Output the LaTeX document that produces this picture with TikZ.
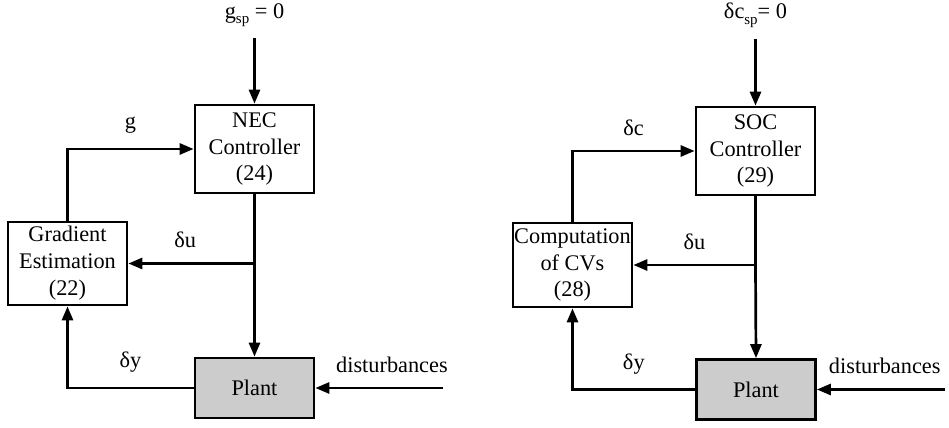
\documentclass[tikz,border=0pt]{standalone}
\usepackage{fontspec}
\setmainfont{Liberation Serif}
\usetikzlibrary{arrows.meta}
\newcommand{\spsub}{\raisebox{-0.55ex}{\fontsize{7.5}{8}\selectfont sp}}
\begin{document}
\begin{tikzpicture}[x=0.5bp,y=-0.5bp,>={Triangle[length=7bp,width=5.5bp]},
    font=\fontsize{11.2}{13.5}\selectfont, line width=1.35bp, line join=miter,
    blk/.style={draw,align=center,minimum width=59.5bp,inner sep=0pt},
    plantblk/.style={blk,fill=gray!40,minimum height=30bp},
    lbl/.style={inner sep=1pt}]
    \useasboundingbox (0,0) rectangle (949,428);

    % left: NEC loop
    \node[lbl] (gsp) at (254.5,15) {g\spsub\ = 0};
    \node[blk,minimum height=44bp] (nec) at (254.5,149) {NEC\\Controller\\(24)};
    \node[blk,minimum height=41.5bp] (grad) at (67.5,263.5) {Gradient\\Estimation\\(22)};
    \node[plantblk] (plantL) at (254.5,388) {Plant};
    \coordinate (juL) at (254.5,263.5);
    \coordinate (distL) at (443,388);
    \draw[->] (gsp.south) ++(0,8) -- (nec.north);
    \draw[->] (grad.north) |- (nec.west) node[lbl,pos=0.75,above=6bp] (gL) {g};
    \draw (nec.south) -- (juL);
    \draw[->] (juL) -- (plantL.north);
    \draw[->] (juL) -- (grad.east) node[lbl,pos=0.55,above=6bp] (duL) {δu};
    \draw[->] (plantL.west) -| (grad.south) node[lbl,pos=0.25,above=6bp] (dyL) {δy};
    \draw[->] (distL) -- (plantL.east) node[lbl,pos=0.4,above=6bp] (dsL) {disturbances};

    % right: SOC loop
    \node[lbl] (csp) at (755.5,15) {δc\spsub= 0};
    \node[blk,minimum height=44bp] (soc) at (755.5,151) {SOC\\Controller\\(29)};
    \node[blk,minimum height=42bp] (comp) at (572.5,265) {Computation\\of CVs\\(28)};
    \node[plantblk] (plantR) at (756,389.5) {Plant};
    \coordinate (juR) at (755.5,265);
    \coordinate (distR) at (945,389.5);
    \draw[->] (csp.south) ++(0,8) -- (soc.north);
    \draw[->] (comp.north) |- (soc.west) node[lbl,pos=0.75,above=6bp] (dcR) {δc};
    \draw (soc.south) -- (juR);
    \draw[->] (juR) -- (plantR.north);
    \draw[->] (juR) -- (comp.east) node[lbl,pos=0.5,above=6bp] (duR) {δu};
    \draw[->] (plantR.west) -| (comp.south) node[lbl,pos=0.25,above=6bp] (dyR) {δy};
    \draw[->] (distR) -- (plantR.east) node[lbl,pos=0.47,above=6bp] (dsR) {disturbances};
\end{tikzpicture}
\end{document}
